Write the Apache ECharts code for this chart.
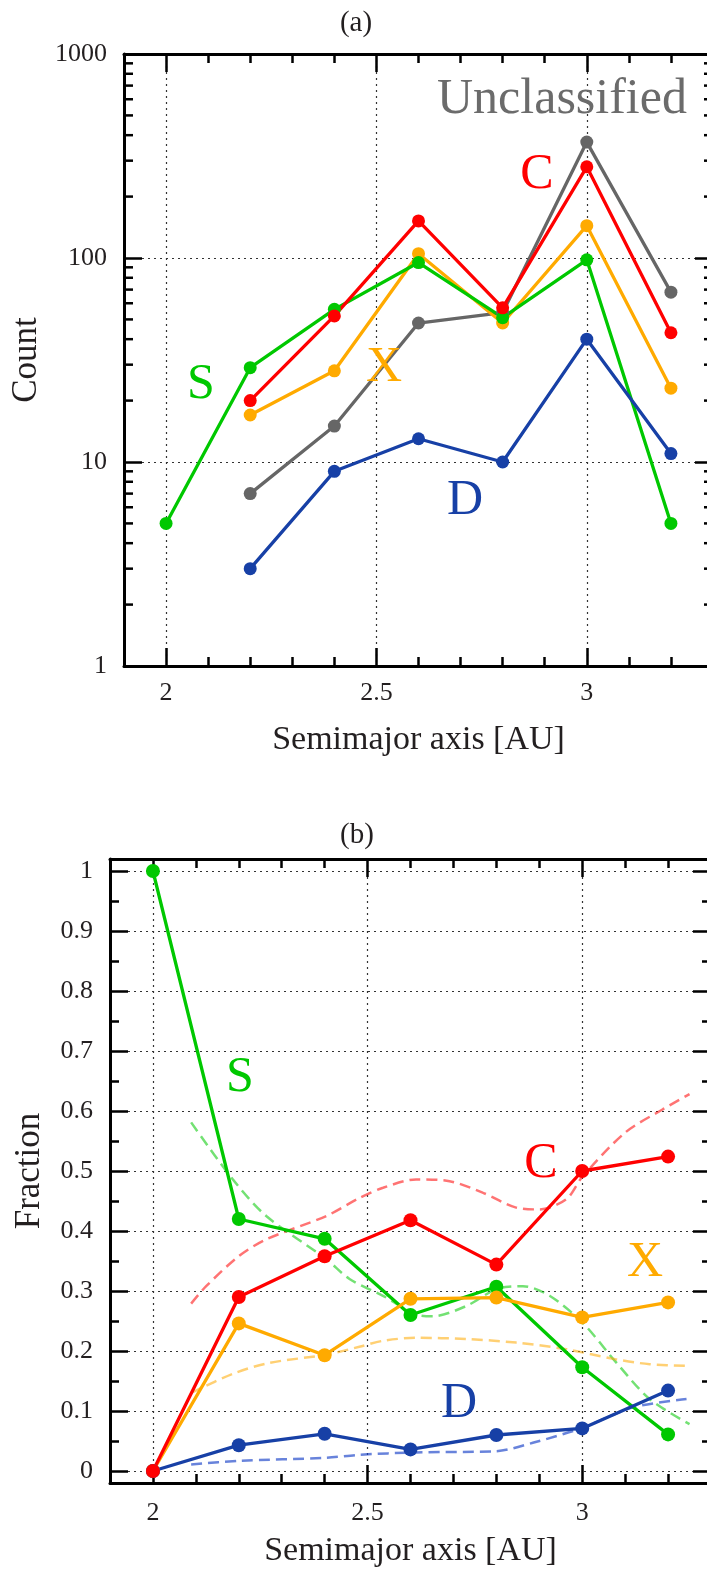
<!DOCTYPE html>
<html><head><meta charset="utf-8">
<script src="https://cdn.jsdelivr.net/npm/echarts@6/dist/echarts.min.js"></script>
<style>html,body{margin:0;padding:0;background:#fff}#c{width:707px;height:1577px}</style>
</head><body><div id="c"></div>
<script>
// ---------- data ----------
const semimajor = [2.0, 2.2, 2.4, 2.6, 2.8, 3.0, 3.2];

// panel (a): counts
const countUnclassified = [null, 7, 15, 48, 54, 370, 68];
const countC = [null, 20, 52, 152, 57, 280, 43];
const countX = [null, 17, 28, 105, 48, 144, 23];
const countS = [5, 29, 56, 95, 51, 98, 5];
const countD = [null, 3, 9, 13, 10, 40, 11];

// panel (b): fractions
const fracS = [1.0, 0.42, 0.387, 0.26, 0.307, 0.173, 0.061];
const fracC = [0, 0.29, 0.358, 0.418, 0.344, 0.500, 0.524];
const fracX = [0, 0.246, 0.193, 0.287, 0.289, 0.256, 0.281];
const fracD = [0, 0.043, 0.062, 0.036, 0.060, 0.071, 0.134];

// panel (b): smoothed (dashed) curves, [a, fraction]
const smoothC = [[2.089,0.279],[2.124,0.308],[2.2,0.358],[2.264,0.386],[2.404,0.425],[2.481,0.455],[2.536,0.472],[2.613,0.486],[2.691,0.483],[2.768,0.464],[2.846,0.439],[2.9,0.436],[2.963,0.453],[3.0,0.49],[3.1,0.564],[3.188,0.603],[3.25,0.628]];
const smoothS = [[2.089,0.581],[2.186,0.486],[2.264,0.425],[2.404,0.353],[2.458,0.32],[2.536,0.292],[2.613,0.261],[2.652,0.258],[2.73,0.275],[2.8,0.303],[2.862,0.308],[2.924,0.292],[3.001,0.247],[3.079,0.181],[3.157,0.12],[3.25,0.078]];
const smoothX = [[2.089,0.13],[2.186,0.162],[2.27,0.18],[2.404,0.194],[2.481,0.207],[2.536,0.217],[2.613,0.222],[2.73,0.22],[2.846,0.214],[2.963,0.203],[3.079,0.186],[3.157,0.178],[3.25,0.175]];
const smoothD = [[2.089,0.011],[2.2,0.017],[2.404,0.022],[2.481,0.027],[2.613,0.031],[2.8,0.033],[2.885,0.047],[3.001,0.072],[3.118,0.106],[3.243,0.12]];

// ticks
const xMajorTicks = [2, 2.5, 3];
const xMinorTicks = [2.1, 2.2, 2.3, 2.4, 2.6, 2.7, 2.8, 2.9, 3.1, 3.2];
const logMinorTicks = [2,3,4,5,6,7,8,9,20,30,40,50,60,70,80,90,200,300,400,500,600,700,800,900];
const fracMajorTicks = [0, 0.1, 0.2, 0.3, 0.4, 0.5, 0.6, 0.7, 0.8, 0.9, 1];
const fracMinorTicks = [0.05, 0.15, 0.25, 0.35, 0.45, 0.55, 0.65, 0.75, 0.85, 0.95];

// ---------- style ----------
const FONT = '"Liberation Serif", "DejaVu Serif", serif';
const TXT = '#231f20';
const COL = {U: '#666666', C: '#ff0000', X: '#ffaa00', S: '#00c800', D: '#1740a6'};
const DCOL = {C: 'rgba(255,0,0,0.55)', X: 'rgba(255,170,0,0.55)', S: 'rgba(0,200,0,0.55)', D: 'rgba(23,64,200,0.65)'};
const gridLine = {show: true, lineStyle: {color: '#333', width: 1.2, type: [2, 4]}};
const axLine = {show: true, onZero: false, lineStyle: {color: '#000', width: 3}};
const noLine = {show: false, onZero: false};
const tickStyle = {color: '#000', width: 2.5};

function xAxesFor(g, labelMargin, nameGap) {
  const base = {gridIndex: g, type: 'value', min: 1.9, max: 3.3, splitNumber: 3};
  return [
    Object.assign({}, base, {position: 'bottom', axisLine: axLine,
      axisTick: {inside: true, length: 18, customValues: xMajorTicks, lineStyle: tickStyle},
      axisLabel: {customValues: xMajorTicks, formatter: v => String(v), fontSize: 26, fontFamily: FONT, color: TXT, margin: labelMargin},
      splitLine: gridLine,
      name: 'Semimajor axis [AU]', nameLocation: 'middle', nameGap: nameGap,
      nameTextStyle: {fontSize: 34, fontFamily: FONT, color: TXT}}),
    Object.assign({}, base, {position: 'top', axisLine: axLine,
      axisTick: {inside: true, length: 18, customValues: xMajorTicks, lineStyle: tickStyle},
      axisLabel: {show: false}, splitLine: {show: false}}),
    Object.assign({}, base, {position: 'bottom', axisLine: noLine,
      axisTick: {inside: true, length: 9, customValues: xMinorTicks, lineStyle: tickStyle},
      axisLabel: {show: false}, splitLine: {show: false}}),
    Object.assign({}, base, {position: 'top', axisLine: noLine,
      axisTick: {inside: true, length: 9, customValues: xMinorTicks, lineStyle: tickStyle},
      axisLabel: {show: false}, splitLine: {show: false}})
  ];
}

const yAxes = [
  // grid 0 (log)
  {gridIndex: 0, type: 'log', logBase: 10, min: 1, max: 1000, position: 'left', axisLine: axLine,
   axisTick: {inside: true, length: 18, lineStyle: tickStyle},
   axisLabel: {formatter: v => String(Math.round(v)), fontSize: 26, fontFamily: FONT, color: TXT, margin: 17},
   splitLine: gridLine,
   name: 'Count', nameLocation: 'middle', nameGap: 76,
   nameTextStyle: {fontSize: 35, fontFamily: FONT, color: TXT}},
  {gridIndex: 0, type: 'log', logBase: 10, min: 1, max: 1000, position: 'right', axisLine: axLine,
   axisTick: {inside: true, length: 18, lineStyle: tickStyle},
   axisLabel: {show: false}, splitLine: {show: false}},
  // grid 1 (linear)
  {gridIndex: 1, type: 'value', min: -0.02, max: 1.02, position: 'left', axisLine: axLine,
   axisTick: {inside: true, length: 18, customValues: fracMajorTicks, lineStyle: tickStyle},
   axisLabel: {customValues: fracMajorTicks, formatter: v => String(+(+v).toFixed(2)), fontSize: 26, fontFamily: FONT, color: TXT, margin: 17},
   splitLine: gridLine,
   name: 'Fraction', nameLocation: 'middle', nameGap: 63,
   nameTextStyle: {fontSize: 35, fontFamily: FONT, color: TXT}},
  {gridIndex: 1, type: 'value', min: -0.02, max: 1.02, position: 'right', axisLine: axLine,
   axisTick: {inside: true, length: 18, customValues: fracMajorTicks, lineStyle: tickStyle},
   axisLabel: {show: false}, splitLine: {show: false}},
  {gridIndex: 1, type: 'value', min: -0.02, max: 1.02, position: 'left', axisLine: noLine,
   axisTick: {inside: true, length: 9, customValues: fracMinorTicks, lineStyle: tickStyle},
   axisLabel: {show: false}, splitLine: {show: false}},
  {gridIndex: 1, type: 'value', min: -0.02, max: 1.02, position: 'right', axisLine: noLine,
   axisTick: {inside: true, length: 9, customValues: fracMinorTicks, lineStyle: tickStyle},
   axisLabel: {show: false}, splitLine: {show: false}}
];

function pairs(vals) {
  const out = [];
  semimajor.forEach((a, i) => { if (vals[i] !== null) out.push([a, vals[i]]); });
  return out;
}
function solid(name, vals, color, xi, yi, size) {
  return {type: 'line', name, xAxisIndex: xi, yAxisIndex: yi, data: pairs(vals),
    symbol: 'circle', symbolSize: size, showSymbol: true,
    lineStyle: {color, width: 3.3}, itemStyle: {color}, z: 3, animation: false};
}
function dashed(name, data, color) {
  return {type: 'line', name, xAxisIndex: 4, yAxisIndex: 2, data, smooth: 0.3,
    showSymbol: false, symbol: 'none',
    lineStyle: {color, width: 2.5, type: [11, 6]}, z: 2, animation: false};
}

const series = [
  // minor ticks on the log axis (both sides), drawn through the axis scale
  {type: 'custom', xAxisIndex: 0, yAxisIndex: 0, silent: true, z: 6, animation: false,
   data: logMinorTicks.flatMap(v => [[1.9, v, 1], [3.3, v, -1]]),
   encode: {x: 0, y: 1},
   renderItem: (params, api) => {
     const p = api.coord([api.value(0), api.value(1)]);
     const d = api.value(2);
     return {type: 'line', shape: {x1: p[0], y1: p[1], x2: p[0] + d * 9, y2: p[1]},
             style: {stroke: '#000', lineWidth: 2.5}};
   }},
  solid('Unclassified', countUnclassified, COL.U, 0, 0, 13),
  solid('X', countX, COL.X, 0, 0, 13),
  solid('S', countS, COL.S, 0, 0, 13),
  solid('C', countC, COL.C, 0, 0, 13),
  solid('D', countD, COL.D, 0, 0, 13),

  dashed('C smooth', smoothC, DCOL.C),
  dashed('S smooth', smoothS, DCOL.S),
  dashed('X smooth', smoothX, DCOL.X),
  dashed('D smooth', smoothD, DCOL.D),
  solid('S', fracS, COL.S, 4, 2, 14),
  solid('X', fracX, COL.X, 4, 2, 14),
  solid('D', fracD, COL.D, 4, 2, 14),
  solid('C', fracC, COL.C, 4, 2, 14)
];

function label(text, x, y, color, size, align) {
  return {type: 'text', x, y, silent: true, z: 10,
    style: {text, fill: color, font: size + 'px ' + FONT, textAlign: align || 'center', textVerticalAlign: 'middle'}};
}

const option = {
  backgroundColor: '#ffffff',
  animation: false,
  grid: [
    {left: 124, top: 54, width: 589, height: 612, containLabel: false, outerBoundsMode: 'none'},
    {left: 110, top: 859, width: 601, height: 624, containLabel: false, outerBoundsMode: 'none'}
  ],
  xAxis: [].concat(xAxesFor(0, 14, 57), xAxesFor(1, 17, 51)),
  yAxis: yAxes,
  series,
  graphic: [
    label('(a)', 356, 23, TXT, 29),
    label('(b)', 357, 835, TXT, 29),
    label('Unclassified', 437, 100, '#6b6b6b', 50, 'left'),
    label('C', 537, 175, COL.C, 50),
    label('S', 201, 385, COL.S, 50),
    label('X', 384, 368, COL.X, 50),
    label('D', 465, 501, COL.D, 50),
    label('S', 240, 1078, COL.S, 50),
    label('C', 541, 1164, COL.C, 50),
    label('X', 645, 1263, COL.X, 50),
    label('D', 459, 1404, COL.D, 50)
  ]
};

const chart = echarts.init(document.getElementById('c'), null, {renderer: 'canvas', width: 707, height: 1577});
chart.setOption(option);
</script>
</body></html>
